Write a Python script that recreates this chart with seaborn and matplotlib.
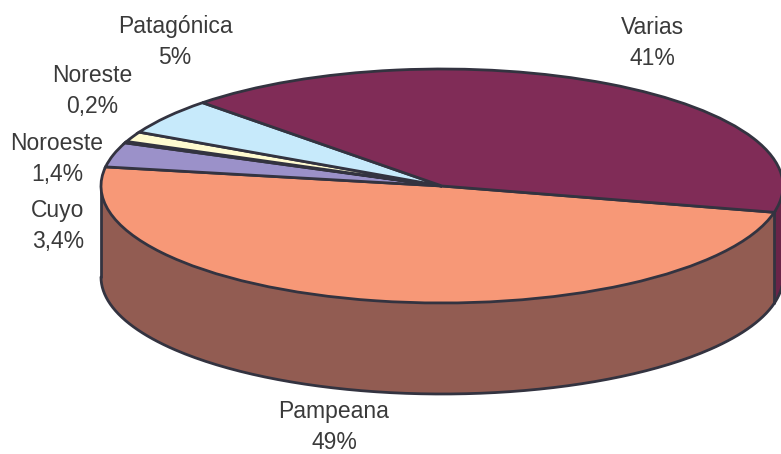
import matplotlib.pyplot as plt
import numpy as np
import seaborn as sns

regions = ['Pampeana', 'Cuyo', 'Noreste', 'Noroeste', 'Patagónica', 'Varias']
shares = [49, 3.4, 0.2, 1.4, 5, 41]
share_labels = ['49%', '3,4%', '0,2%', '1,4%', '5%', '41%']
top_colors = ['#F79877', '#9B91C9', '#333340', '#FFFBD0', '#C7EAFB', '#802C57']

# pixel geometry of the tilted disc
W, H = 781, 454
CX, CY, RX, RY = 442, 186, 341, 117
DEPTH = 91
START = -13
EDGE = '#333340'
TEXT = '#3a3a3a'
LW = 2

sns.set_theme(style='white')
plt.rcParams['font.family'] = ['Liberation Sans', 'DejaVu Sans']

fig = plt.figure(figsize=(W / 100, H / 100), dpi=100)
ax = fig.add_axes([0, 0, 1, 1])

ax.pie(shares, colors=top_colors, startangle=START, counterclock=False, radius=1,
       wedgeprops=dict(edgecolor=EDGE, linewidth=LW, zorder=3))
ax.set_aspect('auto')
ax.set_xlim(-CX / RX, (W - CX) / RX)
ax.set_ylim((CY - H) / RY, CY / RY)
ax.axis('off')

d = DEPTH / RY


def wall(a0, a1, color):
    t = np.radians(np.linspace(a0, a1, 200))
    x, y = np.cos(t), np.sin(t)
    ax.fill_between(x, y - d, y, color=color, lw=0, zorder=1)
    ax.plot(x, y - d, color=EDGE, lw=LW, zorder=2)


# visible side of the disc, front half only
wall(START, -180, '#925C52')
wall(0, START, '#6A2448')

edge_x = np.cos(np.radians(START))
edge_y = np.sin(np.radians(START))
ax.plot([edge_x, edge_x], [edge_y, edge_y - d], color=EDGE, lw=LW, zorder=2)
ax.plot([-1, -1], [0, -d], color=EDGE, lw=LW, zorder=2)

label_pos = [(334, 427), (58, 226), (92, 91), (57, 159), (175, 42), (652, 43)]
for name, pct, (px, py) in zip(regions, share_labels, label_pos):
    ax.text((px - CX) / RX, (CY - py) / RY, f'{name}\n{pct}', ha='center', va='center',
            fontsize=16.5, color=TEXT, linespacing=1.42)

plt.savefig('out.png', dpi=100)
